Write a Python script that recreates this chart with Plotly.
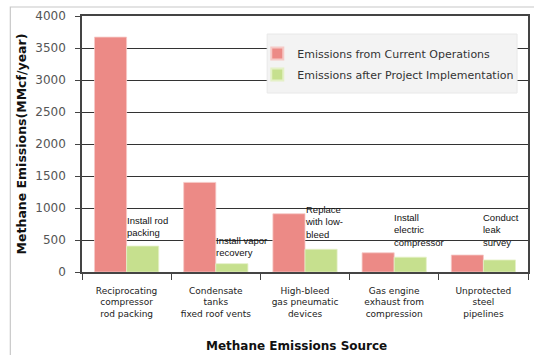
import plotly.graph_objects as go

categories = [
    "Reciprocating<br>compressor<br>rod packing",
    "Condensate<br>tanks<br>fixed roof vents",
    "High-bleed<br>gas pneumatic<br>devices",
    "Gas engine<br>exhaust from<br>compression",
    "Unprotected<br>steel<br>pipelines",
]
current_ops = [3670, 1400, 910, 300, 265]
after_project = [405, 130, 355, 232, 188]
project_labels = [
    "Install rod<br>packing",
    "Install vapor<br>recovery",
    "Replace<br>with low-<br>bleed",
    "Install<br>electric<br>compressor",
    "Conduct<br>leak<br>survey",
]
y_ticks = [0, 500, 1000, 1500, 2000, 2500, 3000, 3500, 4000]

# styling: pixel gap between each label and its bar
label_gaps = [7, 5, 8, 8, 11]

fig = go.Figure()
fig.add_trace(go.Bar(
    x=categories, y=current_ops, name="Emissions from Current Operations",
    legendgroup="a",
    marker=dict(color="#ec8a86", line=dict(color="#f6c9c6", width=0.8)),
))
fig.add_trace(go.Bar(
    x=categories, y=after_project, name="Emissions after Project Implementation",
    legendgroup="b",
    marker=dict(color="#c6e08e", line=dict(color="#e4f0c6", width=0.8)),
))

for cat, val, lab, gap in zip(categories, after_project, project_labels, label_gaps):
    fig.add_annotation(
        x=cat, y=val, xref="x", yref="y", text=lab, showarrow=False,
        xanchor="left", yanchor="bottom", align="left",
        xshift=-1, yshift=gap, borderpad=0,
        font=dict(family="Liberation Sans, Arial", size=9.5, color="#111"),
    )

# x-axis title
fig.add_annotation(
    x=(297 - 82) / 448, y=(272 - 346) / 256, xref="paper", yref="paper",
    text="<b>Methane Emissions Source</b>", showarrow=False,
    xanchor="center", yanchor="middle",
    font=dict(family="DejaVu Sans, Verdana", size=12, color="#111"),
)

# outer light frame
fig.add_shape(type="rect", xref="paper", yref="paper",
              x0=-72/448, x1=1.05, y0=-0.4, y1=(272-7)/256,
              line=dict(color="#c8c8c8", width=1.2), fillcolor="rgba(0,0,0,0)", layer="below")
# legend box
fig.add_shape(type="rect", xref="paper", yref="paper",
              x0=(268-82)/448, x1=(519-82)/448, y0=(272-93)/256, y1=(272-34)/256,
              line=dict(color="#e8e8e8", width=1), fillcolor="#f3f3f3", layer="above")

fig.update_layout(
    width=534, height=355,
    margin=dict(l=82, r=4, t=16, b=83),
    paper_bgcolor="white", plot_bgcolor="white",
    barmode="group", bargap=0.28, bargroupgap=0,
    font=dict(family="DejaVu Sans, Verdana", size=11, color="#444"),
    showlegend=True,
    legend=dict(
        x=0.393, y=0.91, xanchor="left", yanchor="top",
        bgcolor="rgba(0,0,0,0)", borderwidth=0,
        font=dict(family="DejaVu Sans, Verdana", size=11, color="#333"),
        itemsizing="constant", tracegroupgap=2,
    ),
    xaxis=dict(
        showline=True, linecolor="#444", linewidth=1.5, mirror=True,
        ticks="outside", tickson="boundaries", ticklen=6, tickcolor="#444",
        ticklabelstandoff=9,
        tickfont=dict(family="DejaVu Sans, Verdana", size=9, color="#222"),
        showgrid=False,
    ),
    yaxis=dict(
        range=[0, 4000], tickvals=y_ticks,
        showline=True, linecolor="#444", linewidth=1.5, mirror=True,
        ticks="outside", ticklen=5, tickcolor="#444",
        ticklabelstandoff=7,
        showgrid=True, gridcolor="#333", gridwidth=1,
        tickfont=dict(family="DejaVu Sans, Verdana", size=12, color="#555"),
        title=dict(text="<b>Methane Emissions(MMcf/year)</b>",
                   font=dict(family="DejaVu Sans, Verdana", size=12.5, color="#111"),
                   standoff=6),
        zeroline=False,
    ),
)

fig.write_html("out.html")
